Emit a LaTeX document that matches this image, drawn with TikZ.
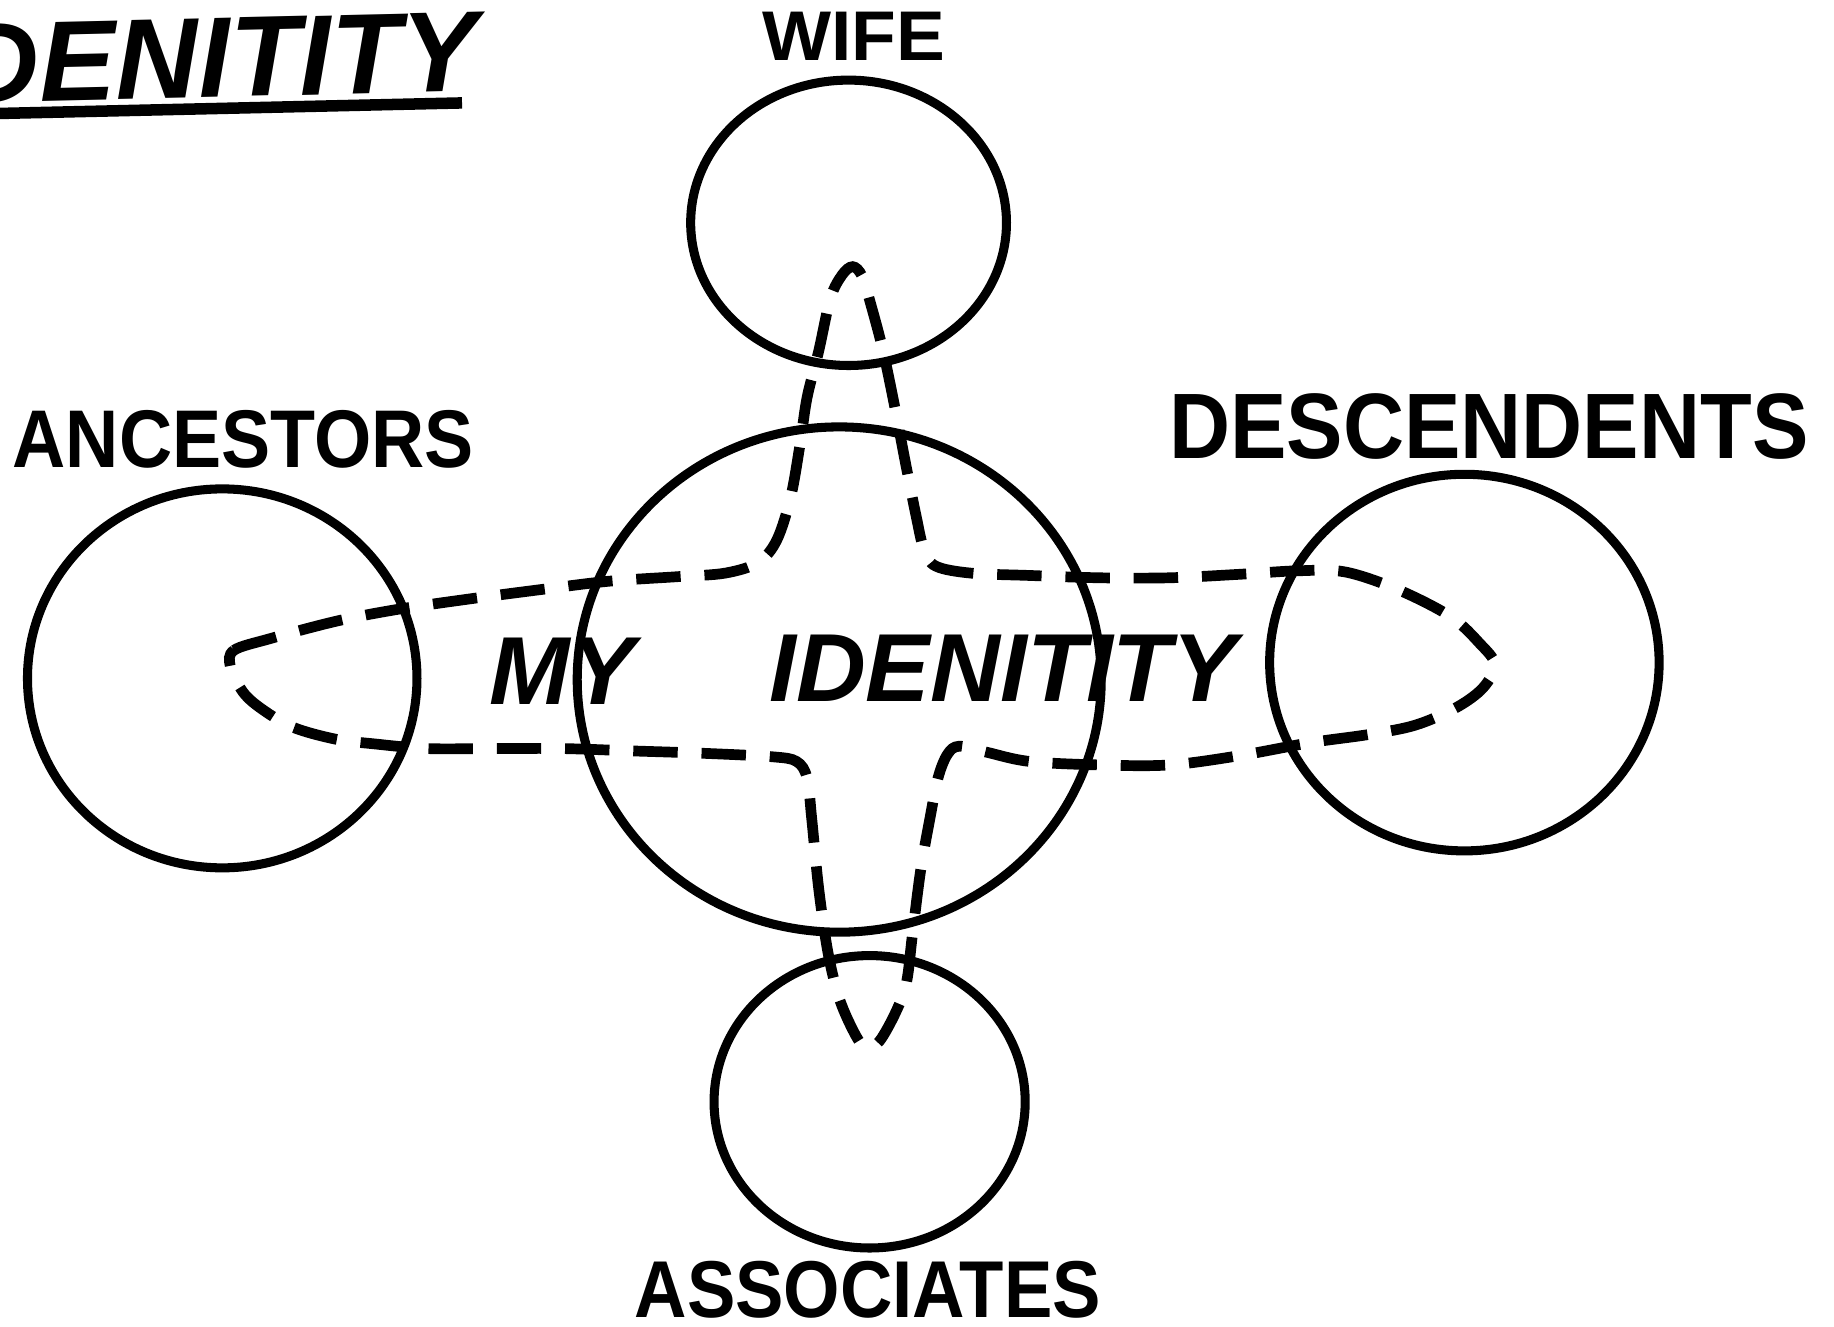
\documentclass[tikz,border=0pt]{standalone}
\usepackage{fontspec}
\setmainfont{Liberation Sans}
\usepackage{graphicx}
\usetikzlibrary{positioning}

\begin{document}
\begin{tikzpicture}[x=0.01cm, y=-0.01cm,
  ring/.style={line width=2.2pt},
  loopline/.style={line width=2.6pt, dash pattern=on 10.8pt off 5.8pt},
  lab/.style={inner sep=0pt, anchor=base},
  labsize/.style={font=\bfseries\fontsize{#1}{#1}\selectfont},
  idsize/.style={font=\bfseries\itshape\fontsize{#1}{#1}\selectfont}]
  \useasboundingbox (0,0) rectangle (1568,1134);

  % Title, cut at the left edge
  \node[lab, anchor=base east, rotate=1.3, idsize=27.8] (title) at (410,78) {DENITITY};
  \coordinate (ulA) at (0,97);
  \coordinate (ulB) at (395,88);
  \draw[line width=2.8pt] (ulA) -- (ulB);

  % Circles
  \draw[ring] (725.5,190.5) ellipse [x radius=135, y radius=122];   % wife
  \draw[ring] (190,580) ellipse [x radius=166.5, y radius=162];     % ancestors
  \draw[ring] (717.5,581) ellipse [x radius=224, y radius=216];     % me
  \draw[ring] (1252,566.5) ellipse [x radius=166.5, y radius=161];  % descendents
  \draw[ring] (743.5,942) ellipse [x radius=133, y radius=125];     % associates

  % Labels
  \node[lab, labsize=17.1] (wife) at (730,52) {\scalebox{1.04}[1]{WIFE}};
  \node[lab, labsize=19.9] (anc) at (208,400) {\scalebox{0.90}[1]{ANCESTORS}};
  \node[lab, labsize=22.6] (desc) at (1273,392) {\scalebox{0.91}[1]{DESCENDENTS}};
  \node[lab, labsize=19.6] (assoc) at (742,1126) {\scalebox{0.9}[1]{ASSOCIATES}};
  \node[lab, anchor=base west, idsize=23.5] (my) at (418,602) {MY};
  \node[lab, anchor=base west, idsize=23.5] (ident) at (657,600) {IDENITITY};

  % Dashed loop through all four circles
  \draw[loopline] plot[smooth cycle, tension=0.55] coordinates {
    (197,570) (200,556) (231,546) (288,531) (340,521) (402,512) (463,504)
    (520,497) (580,493) (620,490) (648,481) (664,462) (676,425) (684,380)
    (690,340) (700,300) (710,255) (720,235) (729,228) (737,236) (745,262)
    (755,300) (765,348) (774,395) (783,440) (790,470) (800,484) (830,490)
    (880,492) (940,494) (1000,494) (1060,491) (1110,488) (1150,489)
    (1195,504) (1240,527) (1265,550) (1278,568) (1268,588) (1245,605)
    (1210,620) (1170,628) (1120,635) (1060,646) (1000,654) (940,654)
    (880,651) (843,643) (820,638) (810,645) (802,665) (795,700) (787,745)
    (780,800) (775,840) (766,865) (752,890) (741,896) (732,886) (718,855)
    (708,815) (700,760) (694,700) (690,665) (681,651) (660,647) (600,644)
    (540,642) (480,640) (420,640) (365,640) (320,636) (287,632) (251,622)
    (225,607) (208,592)};
\end{tikzpicture}
\end{document}
